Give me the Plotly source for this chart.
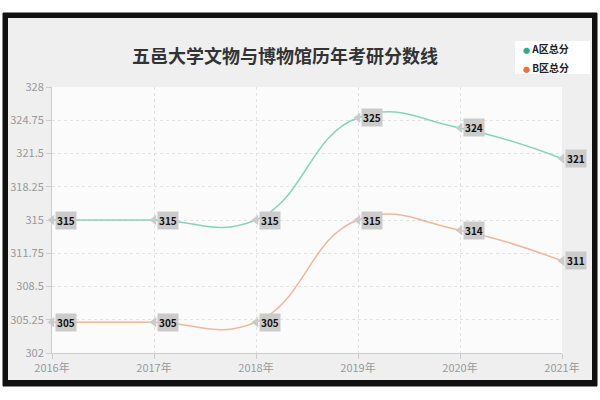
import plotly.graph_objects as go

years = [2016, 2017, 2018, 2019, 2020, 2021]
year_labels = ["2016年", "2017年", "2018年", "2019年", "2020年", "2021年"]
score_a = [315, 315, 315, 325, 324, 321]
score_b = [305, 305, 305, 315, 314, 311]
y_ticks = [302, 305.25, 308.5, 311.75, 315, 318.25, 321.5, 324.75, 328]

series = [
    ("A区总分", score_a, "rgba(95,200,165,0.75)", "#2fae84"),
    ("B区总分", score_b, "rgba(236,160,125,0.75)", "#e8713c"),
]

FONT = "Noto Sans CJK SC"
W, H = 600, 400
L, R, T, B = 52, 38, 87, 47
PW, PH = W - L - R, H - T - B


def px_to_paper(x, y):
    return (x - L) / PW, (H - B - y) / PH


fig = go.Figure()

for name, vals, line_col, dot_col in series:
    fig.add_trace(go.Scatter(
        x=years, y=vals, mode="lines", name=name, showlegend=False,
        line=dict(color=line_col, width=1.5, shape="spline", smoothing=1.3),
        hoverinfo="x+y",
    ))
    # little grey pointer at each value
    fig.add_trace(go.Scatter(
        x=years, y=vals, mode="markers", showlegend=False, hoverinfo="skip",
        marker=dict(symbol="triangle-left", size=9, color="#cbcbcb"),
        cliponaxis=False,
    ))
    # legend entry: the coloured dot sits in the text, right next to the name
    fig.add_trace(go.Scatter(
        x=[None], y=[None], mode="markers",
        name=f"<span style='color:{dot_col};font-size:7px'>●</span> {name}",
        marker=dict(color="rgba(0,0,0,0)", size=1),
    ))
    for x, v in zip(years, vals):
        fig.add_annotation(
            x=x, y=v, text=f"<b>{v}</b>", showarrow=False,
            xanchor="left", yanchor="middle", xshift=3,
            bgcolor="#cbcbcb", borderpad=1,
            font=dict(family=FONT, size=10, color="#111"),
        )

# outer black frame and grey card
x0, y0 = px_to_paper(3, 13)
x1, y1 = px_to_paper(597, 386)
fig.add_shape(type="rect", xref="paper", yref="paper", x0=x0, y0=y1, x1=x1, y1=y0,
              fillcolor="#111", line=dict(color="#111", width=1), layer="below")
x0, y0 = px_to_paper(8, 18)
x1, y1 = px_to_paper(592, 380)
fig.add_shape(type="rect", xref="paper", yref="paper", x0=x0, y0=y1, x1=x1, y1=y0,
              fillcolor="#efefef", line=dict(color="#efefef", width=0), layer="below")
fig.add_shape(type="rect", xref="paper", yref="paper", x0=0, y0=0, x1=1, y1=1,
              fillcolor="#fbfbfb", line=dict(width=0), layer="below")
# white legend box
x0, y0 = px_to_paper(515, 41)
x1, y1 = px_to_paper(590, 74)
fig.add_shape(type="rect", xref="paper", yref="paper", x0=x0, y0=y1, x1=x1, y1=y0,
              fillcolor="white", line=dict(width=0), layer="below")

tx, ty = px_to_paper(285, 40)
fig.add_annotation(
    xref="paper", yref="paper", x=tx, y=ty, showarrow=False,
    text="<b>五邑大学文物与博物馆历年考研分数线</b>",
    font=dict(family=FONT, size=18, color="#333"),
)

lx, ly = px_to_paper(498, 35)
fig.update_layout(
    width=W, height=H,
    margin=dict(l=L, r=R, t=T, b=B, autoexpand=False),
    paper_bgcolor="white",
    plot_bgcolor="rgba(0,0,0,0)",
    font=dict(family=FONT, size=11, color="#999"),
    legend=dict(
        x=lx, y=ly, xanchor="left", yanchor="top",
        bgcolor="rgba(0,0,0,0)", borderwidth=0,
        font=dict(family=FONT, size=10, color="#222", weight="bold"),
        itemwidth=30, tracegroupgap=0, indentation=-15,
    ),
    xaxis=dict(
        range=[2016, 2021], tickvals=years, ticktext=year_labels,
        showgrid=True, gridcolor="#e2e2e2", griddash="dot",
        showline=True, linecolor="#ccc", linewidth=1,
        ticks="outside", tickcolor="#ccc", ticklen=5,
        zeroline=False, tickfont=dict(color="#999", size=11),
    ),
    yaxis=dict(
        range=[302, 328], tickvals=y_ticks,
        ticktext=[f"{t:g}" for t in y_ticks],
        showgrid=True, gridcolor="#e2e2e2", griddash="dot",
        showline=True, linecolor="#ccc", linewidth=1,
        ticks="outside", tickcolor="#ccc", ticklen=5,
        zeroline=False, tickfont=dict(color="#999", size=11),
    ),
)

# drop the browser's default 8px body margin so the chart sits at 0,0
fig.write_html(
    "out.html",
    config={"displayModeBar": False},
    post_script="document.body.style.margin='0';",
)
